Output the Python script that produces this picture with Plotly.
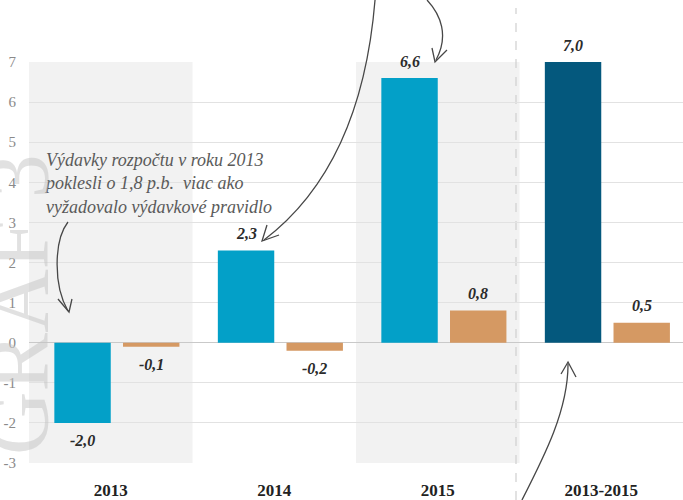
import plotly.graph_objects as go

categories = ["2013", "2014", "2015", "2013-2015"]
actual = [-2.0, 2.3, 6.6, 7.0]
rule = [-0.1, -0.2, 0.8, 0.5]
actual_colors = ["#03a0c8", "#03a0c8", "#03a0c8", "#04587d"]
rule_color = "#d59963"
y_ticks = [-3, -2, -1, 0, 1, 2, 3, 4, 5, 6, 7]
note_text = ("Výdavky rozpočtu v roku 2013<br>poklesli o 1,8 p.b.  viac ako"
             "<br>vyžadovalo výdavkové pravidlo")
watermark = "GRAF 3"

W, H = 683, 500
PLOT_L, PLOT_R, PLOT_T, PLOT_B = 29, 683, 62, 463  # pixels
ML, MR, MT, MB = PLOT_L, W - PLOT_R, PLOT_T, H - PLOT_B
PW, PH = PLOT_R - PLOT_L, PLOT_B - PLOT_T

BAR_W = 0.345
OFF_A, OFF_B = -0.345, 0.075
SERIF = "Liberation Serif, DejaVu Serif, serif"


def fmt(v):
    return f"{v:.1f}".replace(".", ",")


def pxx(x):
    return (x - PLOT_L) / PW


def pxy(y):
    return (PLOT_B - y) / PH


def px(x, y):
    return f"{pxx(x):.4f},{pxy(y):.4f}"


def path(cmds):
    return " ".join(c if isinstance(c, str) else px(*c) for c in cmds)


fig = go.Figure()
fig.add_trace(go.Bar(x=categories, y=actual, marker=dict(color=actual_colors, line=dict(width=0)),
                     width=BAR_W, offset=OFF_A, name="skutočnosť", hoverinfo="x+y"))
fig.add_trace(go.Bar(x=categories, y=rule, marker=dict(color=rule_color, line=dict(width=0)),
                     width=BAR_W, offset=OFF_B, name="pravidlo", hoverinfo="x+y"))

shapes = []
for i in (0, 2):
    shapes.append(dict(type="rect", xref="x", yref="paper", x0=i - 0.5, x1=i + 0.5, y0=0, y1=1,
                       fillcolor="#f2f2f2", line=dict(width=0), layer="below"))
shapes.append(dict(type="line", xref="paper", yref="paper",
                   x0=pxx(516), x1=pxx(516), y0=pxy(500), y1=pxy(8),
                   line=dict(color="#cfcfcf", width=1.2, dash="dash"), layer="below"))

arrow_line = dict(color="#474747", width=1.3)
arrows = [
    ["M", (68, 222), "C", (54, 240), (53, 285), (68, 311)],
    ["M", (58, 299), "L", (69, 312), "L", (72, 299)],
    ["M", (375, 0), "C", (366, 110), (330, 190), (264, 240)],
    ["M", (267, 225), "L", (262, 241), "L", (279, 235)],
    ["M", (427, 0), "C", (441, 15), (449, 36), (436, 60)],
    ["M", (432, 48), "L", (435, 62), "L", (447, 50)],
    ["M", (522, 500), "C", (545, 455), (568, 410), (568, 364)],
    ["M", (561, 374), "L", (568, 362), "L", (576, 377)],
]
for a in arrows:
    shapes.append(dict(type="path", xref="paper", yref="paper", path=path(a),
                       line=arrow_line, fillcolor="rgba(0,0,0,0)", layer="above"))

annotations = []
label_font = dict(family=SERIF, size=16, color="#2b2b2b", weight="bold", style="italic")
for vals, off in ((actual, OFF_A), (rule, OFF_B)):
    for i, v in enumerate(vals):
        annotations.append(dict(x=i + off + BAR_W / 2, y=v, xref="x", yref="y",
                                text=fmt(v), showarrow=False, font=label_font,
                                yanchor="middle", yshift=17 if v >= 0 else -18))

annotations.append(dict(x=pxx(42), y=pxy(183), xref="paper", yref="paper",
                        text=note_text, showarrow=False, align="left", xanchor="left",
                        yanchor="middle",
                        font=dict(family=SERIF, size=18, color="#5a5a5a", style="italic")))

annotations.append(dict(x=pxx(17), y=pxy(305), xref="paper", yref="paper",
                        text=watermark, showarrow=False, textangle=-90,
                        xanchor="center", yanchor="middle", opacity=0.5,
                        font=dict(family=SERIF, size=88, color="#c4c4c4")))

fig.update_layout(
    width=W, height=H,
    margin=dict(l=ML, r=MR, t=MT, b=MB, pad=0),
    paper_bgcolor="white", plot_bgcolor="white",
    barmode="overlay", showlegend=False,
    shapes=shapes, annotations=annotations,
    font=dict(family=SERIF),
)
fig.update_xaxes(type="category", range=[-0.5, 3.5], showgrid=False, zeroline=False,
                 showline=False, ticks="", automargin=False, ticklabelstandoff=15,
                 tickfont=dict(family=SERIF, size=17, color="#222222", weight="bold"))
fig.update_yaxes(range=[-3, 7], tickvals=y_ticks, ticktext=[str(t) for t in y_ticks],
                 showgrid=True, gridcolor="#e2e2e2", gridwidth=1,
                 zeroline=True, zerolinecolor="#c9c9c9", zerolinewidth=1,
                 showline=False, ticks="", automargin=False, ticklabelstandoff=12,
                 tickfont=dict(family=SERIF, size=15, color="#8a8a8a"))

fig.write_html("out.html", config={"displayModeBar": False},
               post_script="document.body.style.margin='0';")
